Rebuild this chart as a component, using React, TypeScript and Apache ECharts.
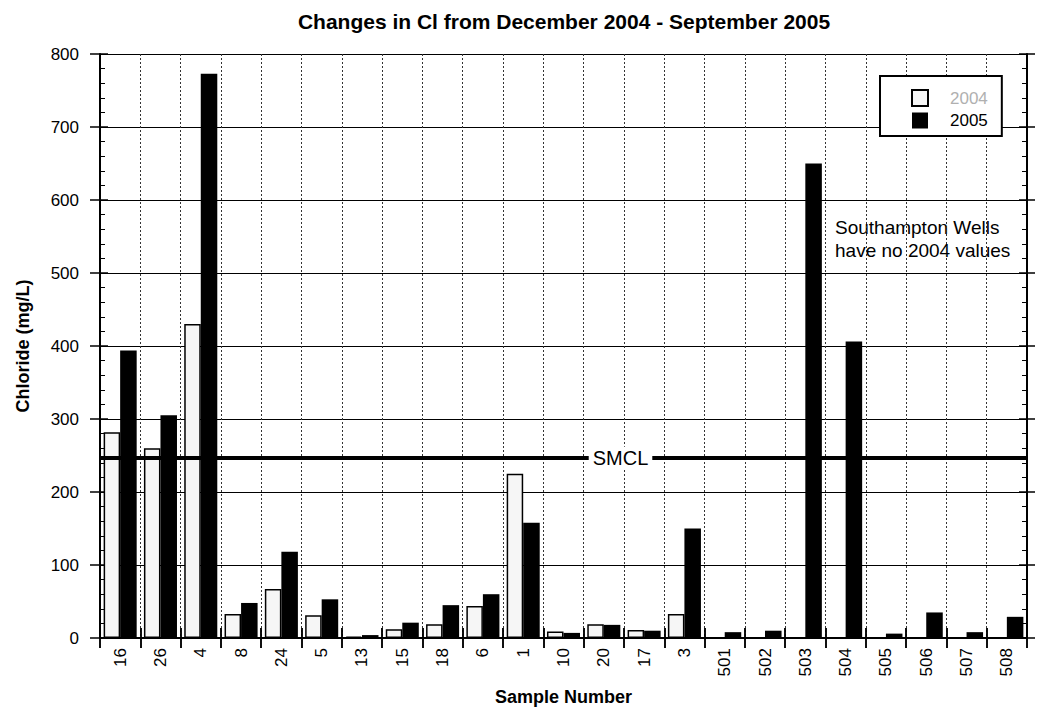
import React, { useEffect, useRef } from 'react';
import * as echarts from 'echarts';

const categories = ['16', '26', '4', '8', '24', '5', '13', '15', '18', '6', '1', '10', '20', '17', '3', '501', '502', '503', '504', '505', '506', '507', '508'];
const values2004: (number | null)[] = [282, 260, 430, 33, 67, 31, 2, 12, 19, 44, 225, 9, 19, 11, 33, null, null, null, null, null, null, null, null];
const values2005: number[] = [394, 305, 773, 48, 118, 53, 4, 21, 45, 60, 158, 7, 18, 10, 150, 8, 10, 650, 406, 6, 35, 8, 29];
const yMin = 0;
const yMax = 800;
const yInterval = 100;
const smclValue = 247;
const titleText = 'Changes in Cl from December 2004 - September 2005';
const noteText = 'Southampton Wells\nhave no 2004 values';

const FONT = "'Liberation Sans', Arial, Helvetica, sans-serif";

export default function App() {
  const ref = useRef<HTMLDivElement>(null);
  useEffect(() => {
    const chart = echarts.init(ref.current!, null, { renderer: 'svg' });
    const gp = { left: 100, right: 10, top: 54, bottom: 75 };
    const hiddenLabel = { show: false };
    chart.setOption({
      animation: false,
      backgroundColor: '#fff',
      textStyle: { fontFamily: FONT },
      title: {
        text: titleText,
        left: 559,
        top: 6,
        textAlign: 'center',
        textStyle: { fontSize: 21, fontWeight: 'bold', color: '#000', fontFamily: FONT },
      },
      legend: {
        orient: 'vertical',
        left: 880,
        top: 76,
        itemWidth: 16,
        itemHeight: 16,
        itemGap: 5,
        icon: 'rect',
        padding: [13, 14, 7, 31],
        borderColor: '#000',
        borderWidth: 2,
        backgroundColor: '#fff',
        textStyle: { fontSize: 17, color: '#000', padding: [0, 0, 0, 17], fontFamily: FONT },
        data: [{ name: '2004', textStyle: { color: '#b0b0b0' } }, { name: '2005' }],
      },
      grid: [{ ...gp }, { ...gp }],
      xAxis: [
        {
          type: 'category', gridIndex: 0, position: 'bottom', data: categories, boundaryGap: true,
          axisLine: { show: true, lineStyle: { color: '#000', width: 2 } },
          axisTick: { show: true, interval: 0, length: 10, inside: false, lineStyle: { color: '#000', width: 1.5 } },
          axisLabel: { rotate: 90, interval: 0, fontSize: 17, color: '#000', margin: 10, fontFamily: FONT },
          splitLine: { show: true, interval: 0, lineStyle: { color: '#333', type: [2, 2], width: 1 } },
          name: 'Sample Number', nameLocation: 'middle', nameGap: 50,
          nameTextStyle: { fontSize: 18, fontWeight: 'bold', color: '#000', fontFamily: FONT },
        },
        {
          type: 'category', gridIndex: 0, position: 'top', data: categories, boundaryGap: true,
          axisLine: { show: true, lineStyle: { color: '#000', width: 2 } },
          axisTick: { show: true, interval: 0, length: 10, inside: false, lineStyle: { color: '#000', width: 1.5 } },
          axisLabel: hiddenLabel, splitLine: { show: false },
        },
        {
          type: 'category', gridIndex: 1, position: 'bottom', data: categories, boundaryGap: true,
          axisLine: { show: false },
          axisTick: { show: true, interval: 0, length: 10, inside: true, lineStyle: { color: '#000', width: 1.5 } },
          axisLabel: hiddenLabel, splitLine: { show: false },
        },
        {
          type: 'category', gridIndex: 1, position: 'top', data: categories, boundaryGap: true,
          axisLine: { show: false },
          axisTick: { show: true, interval: 0, length: 10, inside: true, lineStyle: { color: '#000', width: 1.5 } },
          axisLabel: hiddenLabel, splitLine: { show: false },
        },
      ],
      yAxis: [
        {
          type: 'value', gridIndex: 0, position: 'left', min: yMin, max: yMax, interval: yInterval,
          axisLine: { show: true, lineStyle: { color: '#000', width: 2 } },
          axisTick: { show: true, length: 10, inside: false, lineStyle: { color: '#000', width: 1.5 } },
          axisLabel: { fontSize: 17, color: '#000', margin: 21, fontFamily: FONT },
          splitLine: { show: true, lineStyle: { color: '#000', width: 1 } },
          name: 'Chloride (mg/L)', nameLocation: 'middle', nameGap: 68,
          nameTextStyle: { fontSize: 18, fontWeight: 'bold', color: '#000', fontFamily: FONT },
        },
        {
          type: 'value', gridIndex: 0, position: 'right', min: yMin, max: yMax, interval: yInterval,
          axisLine: { show: true, lineStyle: { color: '#000', width: 2 } },
          axisTick: { show: true, length: 8, inside: false, lineStyle: { color: '#000', width: 1.5 } },
          axisLabel: hiddenLabel, splitLine: { show: false },
        },
        {
          type: 'value', gridIndex: 1, position: 'left', min: yMin, max: yMax, interval: yInterval,
          axisLine: { show: false },
          axisTick: { show: true, length: 8, inside: true, lineStyle: { color: '#000', width: 1.5 } },
          minorTick: { show: true, splitNumber: 5, length: 5, lineStyle: { color: '#000', width: 1 } },
          axisLabel: hiddenLabel, splitLine: { show: false },
        },
        {
          type: 'value', gridIndex: 1, position: 'right', min: yMin, max: yMax, interval: yInterval,
          axisLine: { show: false },
          axisTick: { show: true, length: 8, inside: true, lineStyle: { color: '#000', width: 1.5 } },
          minorTick: { show: true, splitNumber: 5, length: 5, lineStyle: { color: '#000', width: 1 } },
          axisLabel: hiddenLabel, splitLine: { show: false },
        },
      ],
      series: [
        {
          name: '2004', type: 'bar', xAxisIndex: 0, yAxisIndex: 0, data: values2004,
          barGap: '0%', barCategoryGap: '18%',
          itemStyle: { color: '#f6f6f6', borderColor: '#000', borderWidth: 1.5 },
        },
        {
          name: '2005', type: 'bar', xAxisIndex: 0, yAxisIndex: 0, data: values2005,
          barGap: '0%', barCategoryGap: '18%',
          itemStyle: { color: '#000' },
          markLine: {
            silent: true,
            symbol: 'none',
            data: [{ yAxis: smclValue }],
            lineStyle: { color: '#000', width: 4, type: 'solid' },
            label: {
              show: true,
              position: 'insideMiddle',
              formatter: '{pad| }{t|SMCL}',
              rich: {
                pad: { width: 114 },
                t: { backgroundColor: '#fff', fontSize: 20, color: '#000', padding: [1, 4, 1, 4], fontFamily: FONT },
              },
            },
          },
        },
      ],
      graphic: [
        {
          type: 'text', left: 835, top: 216,
          style: { text: noteText, fontSize: 19, fontFamily: FONT, fill: '#000', lineHeight: 23 },
        },
      ],
    });
    return () => chart.dispose();
  }, []);
  return <div ref={ref} style={{ position: 'absolute', left: 0, top: 0, width: 1037, height: 713 }} />;
}
